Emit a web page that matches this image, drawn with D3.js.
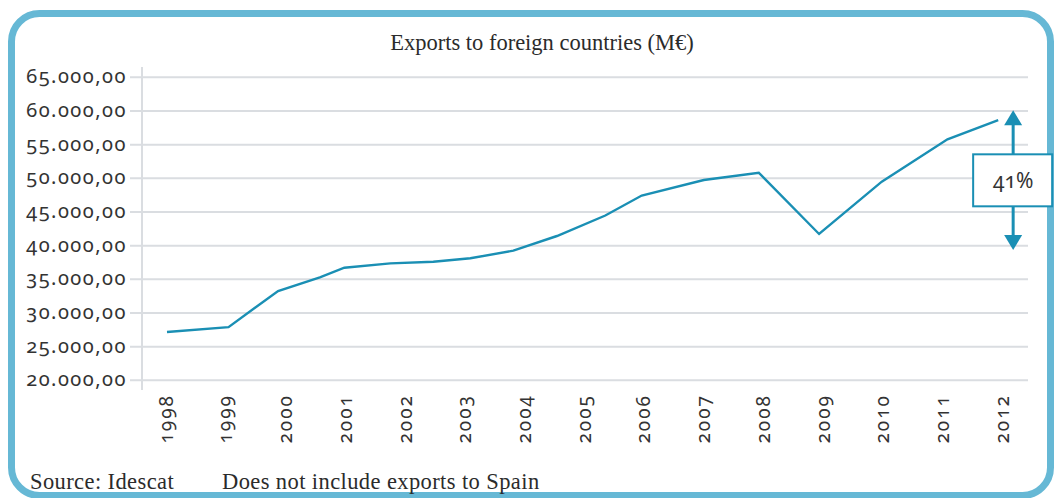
<!DOCTYPE html>
<html lang="en">
<head>
<meta charset="UTF-8">
<title>Exports to foreign countries (M€)</title>
<style>
  body { margin: 0; background: #fff; }
  svg { display: block; }
  .num { font-family: "Noto Sans", sans-serif; font-feature-settings: "onum" 1; fill: #333; }
  .serif { font-family: "Liberation Serif", "DejaVu Serif", serif; fill: #2b2b2b; }
</style>
</head>
<body>
<svg id="chart" width="1056" height="498"></svg>
<script src="https://d3js.org/d3.v7.min.js"></script>
<script>
// year labels on the x axis
var years = [1998, 1999, 2000, 2001, 2002, 2003, 2004, 2005, 2006, 2007, 2008, 2009, 2010, 2011, 2012];
// y ticks (M€)
var yTicks = [20000, 25000, 30000, 35000, 40000, 45000, 50000, 55000, 60000, 65000];
// line vertices (year position, value in M€)
var lineYears  = [1998.0, 1999.03, 1999.86, 2000.56, 2000.97, 2001.74, 2002.46, 2003.08, 2003.80, 2004.53, 2005.34, 2005.95, 2006.99, 2007.91, 2008.92, 2009.97, 2011.07, 2011.92];
var lineValues = [27170, 27900, 33260, 35300, 36720, 37370, 37610, 38120, 39250, 41430, 44470, 47440, 49740, 50830, 41730, 49500, 55790, 58650];
// annotation: double arrow showing growth
var arrowYear = 2012.17;
var arrowRange = [39350, 60100];
var arrowLabel = "41%";
var boxValue = 49700;

var svg = d3.select("#chart");

// outer rounded frame
svg.append("rect")
   .attr("x", 11.5).attr("y", 13.5)
   .attr("width", 1039).attr("height", 482)
   .attr("rx", 28).attr("ry", 28)
   .attr("fill", "none")
   .attr("stroke", "#66b8d5")
   .attr("stroke-width", 7);

var x = d3.scaleLinear().domain([1998, 2012]).range([167, 1003]);
var y = d3.scaleLinear().domain([20000, 65000]).range([380.3, 77.3]);

var locale = d3.formatLocale({ decimal: ",", thousands: ".", grouping: [3], currency: ["", "€"] });
var fmt = locale.format(",.2f");

var axisX = 142, gridEnd = 1028;

// gridlines
svg.append("g")
   .selectAll("line")
   .data(yTicks)
   .enter().append("line")
   .attr("x1", 130).attr("x2", gridEnd)
   .attr("y1", function(d) { return y(d); })
   .attr("y2", function(d) { return y(d); })
   .attr("stroke", "#dadde1")
   .attr("stroke-width", 2);

// y axis line
svg.append("line")
   .attr("x1", axisX).attr("x2", axisX)
   .attr("y1", 67).attr("y2", 390)
   .attr("stroke", "#dadde1")
   .attr("stroke-width", 2);

// y tick labels
svg.append("g")
   .selectAll("text")
   .data(yTicks)
   .enter().append("text")
   .attr("class", "num")
   .attr("x", 127)
   .attr("y", function(d) { return y(d); })
   .attr("dy", "0.3em")
   .attr("text-anchor", "end")
   .style("font-size", "20px")
   .style("letter-spacing", "1.5px")
   .text(function(d) { return fmt(d); });

// x labels (rotated)
svg.append("g")
   .selectAll("text")
   .data(years)
   .enter().append("text")
   .attr("class", "num")
   .attr("transform", function(d) { return "translate(" + x(d) + ",394) rotate(-90)"; })
   .attr("dy", "0.3em")
   .attr("text-anchor", "end")
   .style("font-size", "19px")
   .style("letter-spacing", "2px")
   .text(function(d) { return d; });

// data line
var pts = lineYears.map(function(d, i) { return [d, lineValues[i]]; });
svg.append("path")
   .datum(pts)
   .attr("fill", "none")
   .attr("stroke", "#1a8fb4")
   .attr("stroke-width", 2.4)
   .attr("d", d3.line().x(function(d) { return x(d[0]); }).y(function(d) { return y(d[1]); }));

// annotation arrow
var ax = x(arrowYear), yTop = y(arrowRange[1]), yBot = y(arrowRange[0]);
var aColor = "#1a8fb4";
svg.append("line")
   .attr("x1", ax).attr("x2", ax)
   .attr("y1", yTop + 12).attr("y2", yBot - 12)
   .attr("stroke", aColor).attr("stroke-width", 3);
svg.append("path")
   .attr("d", "M" + ax + "," + yTop + " l-9,15 l18,0 Z")
   .attr("fill", aColor);
svg.append("path")
   .attr("d", "M" + ax + "," + yBot + " l-9,-15 l18,0 Z")
   .attr("fill", aColor);
var by = y(boxValue);
svg.append("rect")
   .attr("x", ax - 40).attr("y", by - 26)
   .attr("width", 79).attr("height", 52)
   .attr("fill", "#fff")
   .attr("stroke", aColor).attr("stroke-width", 2);
svg.append("text")
   .attr("class", "num")
   .attr("x", ax).attr("y", by)
   .attr("dy", "0.35em")
   .attr("text-anchor", "middle")
   .style("font-size", "21px")
   .text(arrowLabel);

// title
svg.append("text")
   .attr("class", "serif")
   .attr("x", 542).attr("y", 50)
   .attr("text-anchor", "middle")
   .style("font-size", "22.5px")
   .text("Exports to foreign countries (M€)");

// footer notes
svg.append("text")
   .attr("class", "serif")
   .attr("x", 30).attr("y", 489)
   .style("font-size", "22.5px")
   .style("letter-spacing", "0.4px")
   .text("Source: Idescat");
svg.append("text")
   .attr("class", "serif")
   .attr("x", 222).attr("y", 489)
   .style("font-size", "22.5px")
   .style("letter-spacing", "0.4px")
   .text("Does not include exports to Spain");
</script>
</body>
</html>
